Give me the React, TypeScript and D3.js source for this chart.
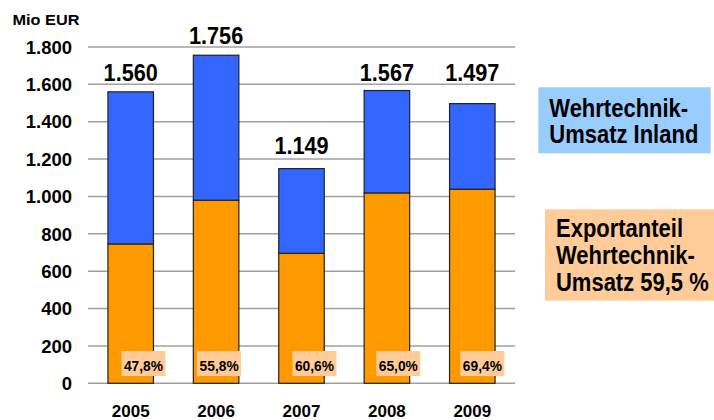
import React from "react";
import * as d3 from "d3";

const years = ["2005", "2006", "2007", "2008", "2009"];
const totals = [1560, 1756, 1149, 1567, 1497];
const exportValues = [746, 980, 696, 1019, 1039];
const totalLabels = ["1.560", "1.756", "1.149", "1.567", "1.497"];
const shareLabels = ["47,8%", "55,8%", "60,6%", "65,0%", "69,4%"];
const yTicks = [0, 200, 400, 600, 800, 1000, 1200, 1400, 1600, 1800];
const yTickLabels = ["0", "200", "400", "600", "800", "1.000", "1.200", "1.400", "1.600", "1.800"];
const legendInland = ["Wehrtechnik-", "Umsatz Inland"];
const legendExport = ["Exportanteil", "Wehrtechnik-", "Umsatz 59,5 %"];

const W = 714, H = 420;
const FONT = "'Liberation Sans', Arial, sans-serif";

function SText({ x, y, sy, children, ...rest }: any) {
  return (
    <text transform={`translate(${x},${y}) scale(1,${sy})`} {...rest}>
      {children}
    </text>
  );
}

export default function App() {
  const x = d3.scaleBand<string>().domain(years).range([88, 515]).paddingInner(0.467).paddingOuter(0.2335);
  const y = d3.scaleLinear().domain([0, 1800]).range([383.3, 47]);
  const bw = x.bandwidth();
  const labelLift = [11, 11.5, 15, 10, 22.6];
  const boxNudge = [12.8, 3, 13, 11.4, 10.1];

  return (
    <svg width={W} height={H} style={{ position: "absolute", left: 0, top: 0, background: "#fff" }} fontFamily={FONT}>
      <rect width={W} height={H} fill="#fff" />
      {yTicks.map((t, i) => (
        <g key={t}>
          <line x1={88} x2={515} y1={y(t)} y2={y(t)} stroke="#a0a0a0" strokeWidth={1.5} />
          <text x={72} y={y(t) + 6.7} textAnchor="end" fontSize={18.5} fontWeight="bold" fill="#000">
            {yTickLabels[i]}
          </text>
        </g>
      ))}
      <text x={12.5} y={25} fontSize={14} fontWeight="bold" textLength={67} lengthAdjust="spacingAndGlyphs">Mio EUR</text>
      {years.map((yr, i) => {
        const x0 = x(yr)!;
        const cx = x0 + bw / 2;
        return (
          <g key={yr}>
            <rect x={x0} y={y(exportValues[i])} width={bw} height={y(0) - y(exportValues[i])} fill="#FF9900" stroke="#222" strokeWidth={1.2} />
            <rect x={x0} y={y(totals[i])} width={bw} height={y(exportValues[i]) - y(totals[i])} fill="#3366FF" stroke="#222" strokeWidth={1.2} />
            <SText x={cx} y={y(totals[i]) - labelLift[i]} sy={1.12} textAnchor="middle" fontSize={21.7} fontWeight="bold">{totalLabels[i]}</SText>
            <rect x={cx + boxNudge[i] - 22} y={351} width={44} height={25} fill="#FFCC99" />
            <SText x={cx + boxNudge[i]} y={371} sy={1.1} textAnchor="middle" fontSize={13.8} fontWeight="bold">{shareLabels[i]}</SText>
            <text x={cx} y={417} textAnchor="middle" fontSize={17} fontWeight="bold">{yr}</text>
          </g>
        );
      })}
      <rect x={538.3} y={87.3} width={172.4} height={66} fill="#99CCFF" />
      {legendInland.map((l, i) => (
        <SText key={i} x={549.3} y={117 + i * 26} sy={1.15} fontSize={22} fontWeight="bold">{l}</SText>
      ))}
      <rect x={545} y={209.3} width={169} height={91.4} fill="#FFCC99" />
      {legendExport.map((l, i) => (
        <SText key={i} x={556} y={237.3 + i * 26.7} sy={1.15} fontSize={22} fontWeight="bold">{l}</SText>
      ))}
    </svg>
  );
}
